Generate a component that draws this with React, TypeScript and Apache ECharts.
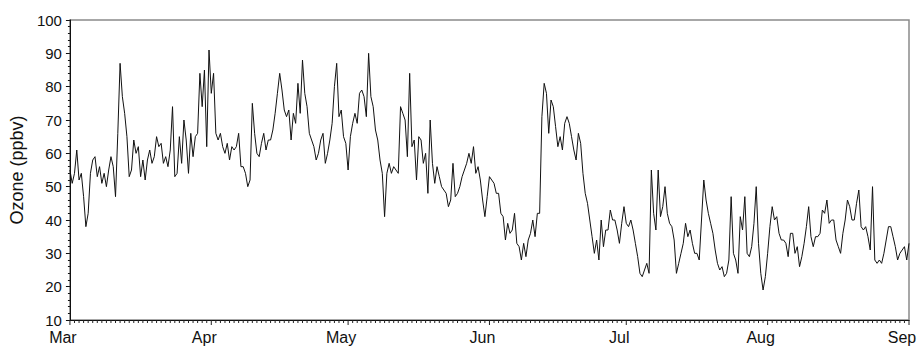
import React, { useEffect, useRef } from 'react';
import * as echarts from 'echarts';

// Month labels and their position (days since 1 March)
const monthLabels = ['Mar', 'Apr', 'May', 'Jun', 'Jul', 'Aug', 'Sep'];
const monthStartDays = [0, 31, 61, 92, 122, 153, 184];

// Ozone (ppbv), one reading every 12 hours starting 1 March
const sampleStepDays = 0.5;
const ozone = [
  55, 51, 54, 61, 52, 54, 47, 38, 42, 54,
  58, 59, 53, 56, 51, 54, 50, 55, 59, 56,
  47, 66, 87, 77, 72, 65, 53, 55, 64, 60,
  62, 53, 58, 52, 58, 61, 57, 59, 65, 62,
  63, 57, 59, 56, 61, 74, 53, 54, 65, 57,
  70, 64, 54, 66, 59, 65, 66, 84, 74, 85,
  62, 91, 78, 84, 66, 64, 66, 62, 60, 63,
  58, 62, 61, 62, 66, 56, 56, 54, 50, 52,
  75, 66, 60, 59, 63, 66, 61, 64, 64, 67,
  72, 78, 84, 79, 73, 71, 73, 64, 72, 69,
  81, 72, 88, 78, 74, 66, 64, 62, 58, 60,
  64, 66, 57, 60, 64, 69, 80, 87, 71, 73,
  65, 63, 55, 65, 69, 72, 69, 78, 79, 77,
  71, 90, 77, 74, 67, 64, 58, 54, 41, 54,
  57, 54, 56, 55, 54, 74, 72, 70, 59, 84,
  62, 64, 52, 65, 64, 57, 60, 48, 70, 57,
  51, 56, 53, 50, 49, 48, 44, 46, 57, 47,
  48, 50, 53, 55, 57, 60, 57, 62, 54, 56,
  52, 46, 41, 47, 53, 52, 51, 48, 48, 42,
  41, 34, 39, 36, 37, 42, 33, 32, 28, 33,
  29, 34, 36, 40, 35, 42, 42, 71, 81, 78,
  66, 76, 74, 68, 62, 65, 61, 69, 71, 69,
  65, 61, 58, 66, 63, 54, 48, 45, 40, 35,
  30, 34, 28, 40, 32, 37, 37, 43, 40, 40,
  37, 33, 39, 44, 39, 38, 40, 37, 33, 29,
  24, 23, 25, 27, 24, 55, 42, 37, 55, 41,
  44, 50, 42, 39, 38, 34, 24, 27, 30, 33,
  39, 35, 37, 33, 30, 30, 28, 40, 52, 46,
  42, 39, 36, 31, 27, 25, 26, 23, 24, 28,
  47, 30, 28, 24, 41, 37, 47, 30, 29, 32,
  39, 50, 33, 24, 19, 23, 30, 38, 44, 40,
  41, 36, 34, 34, 33, 29, 36, 36, 30, 32,
  26, 29, 33, 38, 44, 35, 32, 35, 35, 36,
  43, 42, 46, 39, 40, 40, 34, 32, 30, 36,
  40, 46, 44, 40, 40, 45, 49, 38, 37, 38,
  35, 31, 50, 28, 27, 28, 27, 30, 34, 38,
  38, 35, 32, 28, 30, 31, 32, 28, 33,
];

const Y_MIN = 10;
const Y_MAX = 100;

export default function App() {
  const ref = useRef<HTMLDivElement>(null);

  useEffect(() => {
    if (!ref.current) return;
    const chart = echarts.init(ref.current, null, { renderer: 'svg' });
    const data = ozone.map((v, i) => [i * sampleStepDays, v]);
    const lastDay = monthStartDays[monthStartDays.length - 1];
    const dailyTicks = Array.from({ length: lastDay + 1 }, (_, i) => [i]);
    const font = 'Arial, "Liberation Sans", sans-serif';

    chart.setOption({
      animation: false,
      grid: {
        left: 67,
        right: 11,
        top: 20,
        bottom: 32,
        show: true,
        borderColor: '#8a8a8a',
        borderWidth: 1.5,
        backgroundColor: '#fff',
      },
      xAxis: {
        type: 'value',
        min: 0,
        max: lastDay,
        position: 'bottom',
        axisLine: { show: true, onZero: false, lineStyle: { color: '#111', width: 1 } },
        axisTick: { show: false },
        axisLabel: {
          customValues: monthStartDays,
          formatter: (v: number) => {
            const idx = monthStartDays.indexOf(Math.round(v));
            return idx >= 0 ? monthLabels[idx] : '';
          },
          fontSize: 16,
          color: '#111',
          margin: 9,
          fontFamily: font,
          padding: [0, 14, 0, 0],
        },
        splitLine: { show: false },
      },
      yAxis: {
        type: 'value',
        min: Y_MIN,
        max: Y_MAX,
        interval: 10,
        axisLine: { show: true, lineStyle: { color: '#111', width: 1 } },
        axisTick: { show: true, length: 4, lineStyle: { color: '#111' } },
        minorTick: { show: true, splitNumber: 5, length: 2, lineStyle: { color: '#111' } },
        splitLine: { show: false },
        axisLabel: { fontSize: 15, color: '#111', margin: 8, fontFamily: font },
        name: 'Ozone (ppbv)',
        nameLocation: 'middle',
        nameGap: 42,
        nameTextStyle: { fontSize: 18, color: '#111', fontFamily: font },
      },
      series: [
        {
          type: 'line',
          data,
          symbol: 'none',
          showSymbol: false,
          lineStyle: { color: '#111', width: 1 },
          z: 3,
        },
        {
          // daily tick marks under the time axis (longer at month starts)
          type: 'custom',
          data: dailyTicks,
          clip: false,
          silent: true,
          z: 4,
          renderItem: (_params: any, api: any) => {
            const day = api.value(0);
            const p = api.coord([day, Y_MIN]);
            const isMonth = monthStartDays.indexOf(day) >= 0;
            return {
              type: 'line',
              shape: { x1: p[0], y1: p[1], x2: p[0], y2: p[1] + (isMonth ? 5 : 3) },
              style: { stroke: '#222', lineWidth: 1 },
            };
          },
        },
      ],
    });

    return () => chart.dispose();
  }, []);

  return (
    <div
      ref={ref}
      style={{ position: 'fixed', left: 0, top: 0, width: 920, height: 352, background: '#fff' }}
    />
  );
}
